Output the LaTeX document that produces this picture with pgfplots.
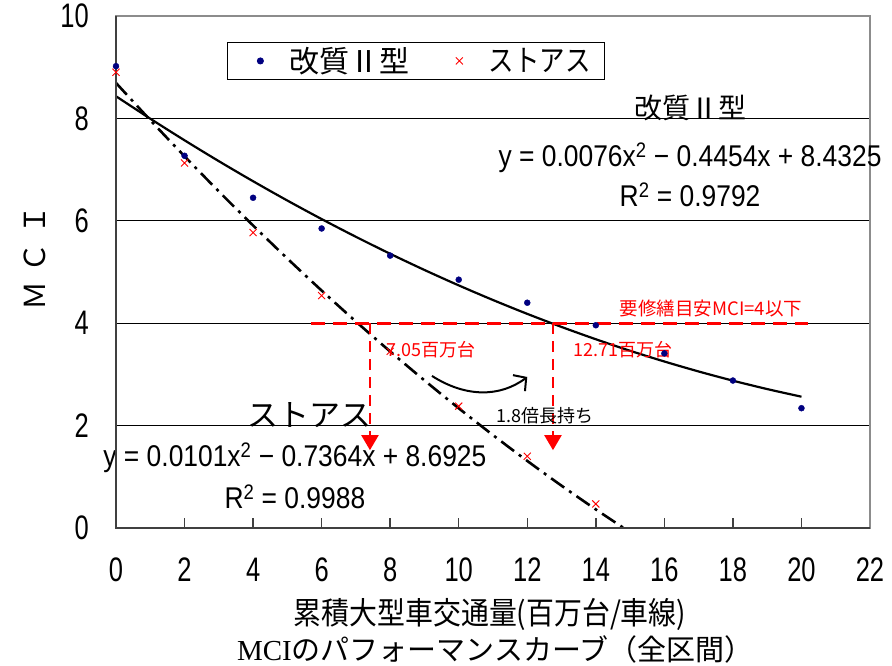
\documentclass[border=0pt]{standalone}
\usepackage{fontspec}
\usepackage{pgfplots}
\pgfplotsset{compat=1.18}
\usetikzlibrary{arrows.meta}
\setmainfont{Liberation Sans}
\newfontfamily\jp{Noto Sans CJK JP}
\newfontfamily\jpn{Noto Sans CJK JP}[FakeStretch=0.9]
\newfontfamily\jpc{Noto Sans CJK JP}[FakeStretch=0.85]
\newfontfamily\narrow{Liberation Sans}[FakeStretch=0.75]
\newfontfamily\eqf{Liberation Sans}[FakeStretch=0.88]
\newfontfamily\serif{Liberation Serif}
\definecolor{navyb}{RGB}{0,0,128}
\begin{document}
\begin{tikzpicture}
\useasboundingbox (-116pt,-138pt) rectangle (776pt,528pt);
\begin{axis}[
 scale only axis, width=754pt, height=512pt,
 xmin=0,xmax=22,ymin=0,ymax=10,
 xtick={0,2,...,22}, ytick={0,2,...,10},
 xtick pos=bottom, tick align=inside,
 major tick length=10pt,
 ytick style={draw=none},
 xtick style={draw=black!75, line width=1.5pt},
 ymajorgrids, grid style={black, line width=1pt},
 axis line style={draw=black!45, line width=1.3pt},
 /pgf/number format/assume math mode=true,
 xticklabel style={font=\narrow\fontsize{34}{34}\selectfont, inner sep=0pt, yshift=-30pt},
 yticklabel style={font=\narrow\fontsize{34}{34}\selectfont, inner sep=0pt, xshift=-27pt},
 xlabel={累積大型車交通量(百万台/車線)},
 xlabel style={font=\jpn\fontsize{31}{32}\selectfont, inner sep=0pt, at={(axis description cs:0.496,-0.168)}, anchor=center},
 ylabel={Ｍ\hspace{9pt}Ｃ\hspace{9pt}Ｉ},
 ylabel style={font=\jp\fontsize{29}{30}\selectfont, at={(axis description cs:-0.107,0.527)}, anchor=center, rotate=0},
 clip=false,
 legend columns=2,
 legend image code/.code={\path (-12pt,0pt) (0pt,0pt);
   \draw[mark repeat=2,mark phase=2,#1] plot coordinates {(0cm,0cm) (0.3cm,0cm) (0.6cm,0cm)};},
 legend style={at={(0.147,0.949)}, anchor=north west, draw=black, line width=1pt,
   font=\jp\fontsize{30}{34}\selectfont, inner xsep=12pt, inner ysep=3pt,
   /tikz/every odd column/.append style={column sep=24pt},
   /tikz/every even column/.append style={column sep=27pt}},
]
\addplot[only marks, mark=*, mark size=3pt, color=navyb] coordinates {
 (0,9.02) (2,7.27) (4,6.45) (6,5.85) (8,5.32) (10,4.85) (12,4.40) (14,3.96) (16,3.41) (18,2.88) (20,2.34)};
\addlegendentry{改質Ⅱ型}
\addplot[only marks, mark=x, mark size=5pt, red, line width=0.9pt] coordinates {
 (0,8.90) (2,7.13) (4,5.77) (6,4.54) (8,3.45) (10,2.38) (12,1.40) (14,0.47)};
\addlegendentry{{\jpc ストアス}}
% trend line 改質II型
\addplot[black, line width=2.2pt, smooth, forget plot] coordinates {
 (0,8.4325) (1,7.9947) (2,7.5721) (3,7.1647) (4,6.7725) (5,6.3955) (6,6.0337) (7,5.6871)
 (8,5.3557) (9,5.0395) (10,4.7385) (11,4.4527) (12,4.1821) (13,3.9267) (14,3.6865)
 (15,3.4615) (16,3.2517) (17,3.0571) (18,2.8777) (19,2.7135) (20,2.5645)};
% trend line ストアス
\addplot[black, line width=2.6pt, smooth, dash pattern=on 16pt off 6pt on 3pt off 6pt, forget plot] coordinates {
 (0,8.6925) (1,7.9662) (2,7.2601) (3,6.5742) (4,5.9085) (5,5.2630) (6,4.6377) (7,4.0326)
 (8,3.4477) (9,2.8830) (10,2.3385) (11,1.8142) (12,1.3101) (13,0.8262) (14,0.3625) (14.8,0.0061)};
% repair threshold
\addplot[red, line width=3pt, dash pattern=on 14pt off 8pt, forget plot] coordinates {(5.7,4) (20.2,4)};
\addplot[red, line width=2.2pt, dash pattern=on 11pt off 7pt, -{Triangle[width=17pt,length=15pt]}, forget plot] coordinates {(7.41,4) (7.41,1.52)};
\addplot[red, line width=2.2pt, dash pattern=on 11pt off 7pt, -{Triangle[width=17pt,length=15pt]}, forget plot] coordinates {(12.75,4) (12.75,1.52)};
% curved arrow
\draw[black, line width=2pt, -{Straight Barb[length=9pt,width=20pt]}] (axis cs:9.22,2.97) .. controls (axis cs:10.2,2.55) and (axis cs:11.2,2.55) .. (axis cs:12.0,2.95);
% annotations
\node[font=\jp\fontsize{28}{30}\selectfont] at (axis cs:16.75,8.2) {改質Ⅱ型};
\node[font=\eqf\fontsize{30}{32}\selectfont] at (axis cs:16.75,7.23) {y = 0.0076x\textsuperscript{2} − 0.4454x + 8.4325};
\node[font=\eqf\fontsize{30}{32}\selectfont] at (axis cs:16.75,6.5) {R\textsuperscript{2} = 0.9792};
\node[font=\jp\fontsize{31}{32}\selectfont] at (axis cs:5.66,2.2) {ストアス};
\node[font=\eqf\fontsize{30}{32}\selectfont] at (axis cs:5.22,1.37) {y = 0.0101x\textsuperscript{2} − 0.7364x + 8.6925};
\node[font=\eqf\fontsize{30}{32}\selectfont] at (axis cs:5.22,0.6) {R\textsuperscript{2} = 0.9988};
\node[font=\jp\fontsize{18.5}{20}\selectfont, text=red] at (axis cs:17.36,4.28) {要修繕目安MCI=4以下};
\node[font=\jp\fontsize{18}{20}\selectfont, text=red] at (axis cs:9.2,3.48) {7.05百万台};
\node[font=\jp\fontsize{18}{20}\selectfont, text=red] at (axis cs:14.79,3.48) {12.71百万台};
\node[font=\jp\fontsize{18}{20}\selectfont] at (axis cs:12.52,2.2) {1.8倍長持ち};
\node[font=\jp\fontsize{29}{30}\selectfont, inner sep=0pt] at (axis description cs:0.503,-0.238) {{\serif MCI}のパフォーマンスカーブ（全区間）};
% heavier left and bottom axis lines
\draw[black!75, line width=2pt] (rel axis cs:0,1) -- (rel axis cs:0,0) -- (rel axis cs:1,0);
\end{axis}
\end{tikzpicture}
\end{document}
